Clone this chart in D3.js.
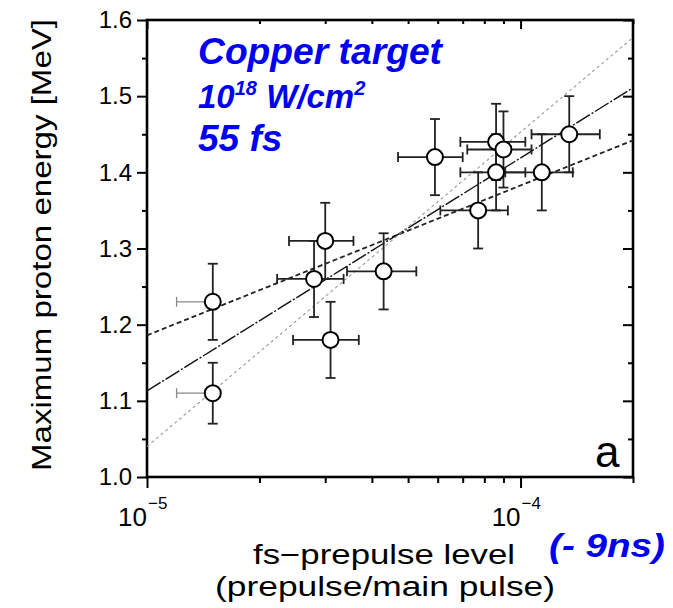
<!DOCTYPE html>
<html>
<head>
<meta charset="utf-8">
<script src="https://cdn.jsdelivr.net/npm/d3@7"></script>
<style>
  body { margin: 0; background: #fff; }
  svg { display: block; }
  text { font-family: "Liberation Sans", Arial, sans-serif; }
</style>
</head>
<body>
<svg id="chart" width="673" height="608"></svg>
<script>
// data (prepulse level vs max proton energy)
const xVals = [1.5e-5, 1.5e-5, 2.8e-5, 3.0e-5, 3.1e-5, 4.3e-5, 5.9e-5, 8.6e-5, 9.0e-5, 8.6e-5, 7.7e-5, 1.14e-4, 1.35e-4];
const yVals = [1.23, 1.11, 1.26, 1.31, 1.18, 1.27, 1.42, 1.44, 1.43, 1.40, 1.35, 1.40, 1.45];
const yLo   = [1.18, 1.07, 1.21, 1.26, 1.13, 1.22, 1.37, 1.39, 1.38, 1.35, 1.30, 1.35, 1.40];
const yHi   = [1.28, 1.15, 1.31, 1.36, 1.23, 1.32, 1.47, 1.49, 1.48, 1.45, 1.40, 1.45, 1.50];
const xLo   = [1.2e-5, 1.2e-5, 2.23e-5, 2.4e-5, 2.46e-5, 3.43e-5, 4.7e-5, 6.9e-5, 7.2e-5, 6.9e-5, 6.1e-5, 9.1e-5, 1.07e-4];
const xHi   = [1.5e-5, 1.5e-5, 3.36e-5, 3.57e-5, 3.69e-5, 5.26e-5, 7.0e-5, 1.03e-4, 1.07e-4, 1.03e-4, 9.25e-5, 1.38e-4, 1.63e-4];

// fitted lines: energy at the two ends of the x range
const fitNames = ['dashed', 'dashdot', 'dotted'];
const fitStart = [1.186, 1.113, 1.040];
const fitEnd   = [1.442, 1.511, 1.577];

const xDomain = [1e-5, 2e-4];
const yDomain = [1.0, 1.6];
const yMajor = [1.0, 1.1, 1.2, 1.3, 1.4, 1.5, 1.6];
const yMinor = [1.05, 1.15, 1.25, 1.35, 1.45, 1.55];
const xMajor = [1e-5, 1e-4];
const xMinor = [2e-5, 3e-5, 4e-5, 5e-5, 6e-5, 7e-5, 8e-5, 9e-5, 2e-4];
const xMajorExp = ['−5', '−4'];

const svg = d3.select('#chart');
const m = {left: 147, top: 20, right: 40, bottom: 131};
const W = 673 - m.left - m.right, H = 608 - m.top - m.bottom;
const g = svg.append('g').attr('transform', `translate(${m.left},${m.top})`);

const x = d3.scaleLog().domain(xDomain).range([0, W]);
const y = d3.scaleLinear().domain(yDomain).range([H, 0]);

// axes (ticks only, frame drawn below)
function styleAxis(sel){
  sel.select('.domain').remove();
  sel.selectAll('line').attr('stroke', '#000').attr('stroke-width', 2);
}
g.append('g').call(d3.axisLeft(y).tickValues(yMajor).tickSize(10).tickPadding(5).tickFormat(d3.format('.1f')))
  .call(styleAxis)
  .selectAll('text').attr('font-size', 24).attr('font-family', '"Liberation Sans", Arial, sans-serif').attr('fill', '#000');
g.append('g').call(d3.axisLeft(y).tickValues(yMinor).tickSize(5).tickFormat('')).call(styleAxis);
g.append('g').attr('transform', `translate(${W},0)`).call(d3.axisRight(y).tickValues(yMajor).tickSize(-10).tickFormat('')).call(styleAxis);
g.append('g').attr('transform', `translate(${W},0)`).call(d3.axisRight(y).tickValues(yMinor).tickSize(-5).tickFormat('')).call(styleAxis);

g.append('g').attr('transform', `translate(0,${H})`).call(d3.axisBottom(x).tickValues(xMajor).tickSize(11).tickFormat('')).call(styleAxis);
g.append('g').attr('transform', `translate(0,${H})`).call(d3.axisBottom(x).tickValues(xMinor).tickSize(6).tickFormat('')).call(styleAxis);
g.append('g').call(d3.axisTop(x).tickValues(xMajor).tickSize(-9).tickFormat('')).call(styleAxis);
g.append('g').call(d3.axisTop(x).tickValues(xMinor).tickSize(-4).tickFormat('')).call(styleAxis);

// x tick labels 10^n
xMajor.forEach((v, i) => {
  g.append('text').attr('x', x(v)).attr('y', H + 49)
    .attr('text-anchor', 'end').attr('font-size', 26).text('10');
  g.append('text').attr('x', x(v) + 1).attr('y', H + 32)
    .attr('font-size', 17).text(xMajorExp[i]);
});

// frame
g.append('rect').attr('width', W).attr('height', H)
  .attr('fill', 'none').attr('stroke', '#000').attr('stroke-width', 2.6);

// fit lines
const fitStyle = {
  dashed:  {stroke: '#222', width: 1.8, dash: '5,3'},
  dashdot: {stroke: '#111', width: 1.4, dash: '16,2,2,2'},
  dotted:  {stroke: '#999', width: 1.1, dash: '3,3'}
};
fitNames.forEach((n, i) => {
  const s = fitStyle[n];
  g.append('line')
    .attr('x1', x(xDomain[0])).attr('y1', y(fitStart[i]))
    .attr('x2', x(xDomain[1])).attr('y2', y(fitEnd[i]))
    .attr('stroke', s.stroke).attr('stroke-width', s.width).attr('stroke-dasharray', s.dash);
});

// error bars
const pts = xVals.map((v, i) => ({x: v, y: yVals[i], y0: yLo[i], y1: yHi[i], x0: xLo[i], x1: xHi[i]}));
const cap = 5;
const eb = g.append('g').attr('stroke', '#222').attr('stroke-width', 1.8).attr('fill', 'none');
pts.forEach(d => {
  const one = d.x1 === d.x; // one-sided horizontal bars drawn lighter
  const hb = eb.append('g').attr('stroke', one ? '#888' : '#222').attr('stroke-width', one ? 1.3 : 1.8);
  hb.append('line').attr('x1', x(d.x0)).attr('x2', x(d.x1)).attr('y1', y(d.y)).attr('y2', y(d.y));
  hb.append('line').attr('x1', x(d.x0)).attr('x2', x(d.x0)).attr('y1', y(d.y) - cap).attr('y2', y(d.y) + cap);
  if (!one) hb.append('line').attr('x1', x(d.x1)).attr('x2', x(d.x1)).attr('y1', y(d.y) - cap).attr('y2', y(d.y) + cap);
  eb.append('line').attr('x1', x(d.x)).attr('x2', x(d.x)).attr('y1', y(d.y0)).attr('y2', y(d.y1));
  eb.append('line').attr('x1', x(d.x) - cap).attr('x2', x(d.x) + cap).attr('y1', y(d.y0)).attr('y2', y(d.y0));
  eb.append('line').attr('x1', x(d.x) - cap).attr('x2', x(d.x) + cap).attr('y1', y(d.y1)).attr('y2', y(d.y1));
});

g.selectAll('circle.pt').data(pts).join('circle')
  .attr('class', 'pt')
  .attr('cx', d => x(d.x)).attr('cy', d => y(d.y)).attr('r', 8)
  .attr('fill', '#fff').attr('stroke', '#000').attr('stroke-width', 2);

// panel letter
g.append('text').attr('x', W - 38).attr('y', H - 10).attr('font-size', 44).text('a');

// blue annotation
const blue = '#0000f0';
const ann = svg.append('g').attr('fill', blue).attr('font-weight', 'bold').attr('font-style', 'italic');
ann.append('text').attr('x', 198).attr('y', 64).attr('font-size', 37).attr('textLength', 244).attr('lengthAdjust', 'spacingAndGlyphs').text('Copper target');
const t2 = ann.append('text').attr('x', 198).attr('y', 108).attr('font-size', 33);
t2.append('tspan').text('10');
t2.append('tspan').attr('font-size', 20).attr('dy', -13).text('18');
t2.append('tspan').attr('dy', 13).text(' W/cm');
t2.append('tspan').attr('font-size', 20).attr('dy', -13).text('2');
ann.append('text').attr('x', 198).attr('y', 151).attr('font-size', 37).text('55 fs');
ann.append('text').attr('x', 549).attr('y', 557).attr('font-size', 33).attr('textLength', 116).attr('lengthAdjust', 'spacingAndGlyphs').text('(- 9ns)');

// axis titles
svg.append('text').attr('transform', 'translate(51,245) rotate(-90)')
  .attr('text-anchor', 'middle').attr('font-size', 27)
  .attr('textLength', 452).attr('lengthAdjust', 'spacingAndGlyphs')
  .text('Maximum proton energy [MeV]');
svg.append('text').attr('x', 384).attr('y', 564).attr('text-anchor', 'middle').attr('font-size', 27)
  .attr('textLength', 262).attr('lengthAdjust', 'spacingAndGlyphs').text('fs−prepulse level');
svg.append('text').attr('x', 385).attr('y', 596).attr('text-anchor', 'middle').attr('font-size', 27)
  .attr('textLength', 340).attr('lengthAdjust', 'spacingAndGlyphs').text('(prepulse/main pulse)');
</script>
</body>
</html>
